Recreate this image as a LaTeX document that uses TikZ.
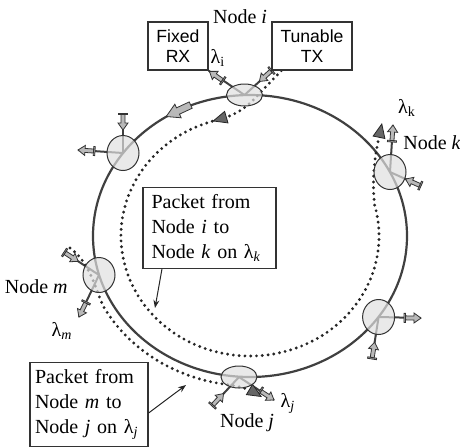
\documentclass[tikz,border=0pt]{standalone}
\usepackage{fontspec}
\setmainfont{Liberation Serif}
\newfontfamily\boxfont{Liberation Sans}
\usetikzlibrary{shapes.geometric, arrows.meta, positioning, calc, backgrounds}

\tikzset{
  blkarrow/.pic={
    \draw[fill=gray!55, draw=black!80, line width=0.4pt] (-9,-4.5) rectangle (-7.5,4.5);
    \draw[fill=gray!55, draw=black!80, line width=0.4pt] (-7.5,-2) -- (1,-2) -- (1,-5) -- (8,0) -- (1,5) -- (1,2) -- (-7.5,2) -- cycle;
  },
  ringarrow/.pic={
    \draw[fill=gray!55, draw=black!80, line width=0.4pt] (-14,-3.5) -- (0,-3.5) -- (0,-7.5) -- (13,0) -- (0,7.5) -- (0,3.5) -- (-14,3.5) -- cycle;
  }
}

\begin{document}
\begin{tikzpicture}[x=0.5pt, y=0.5pt,
  wdm/.style={ellipse, draw=black!80, line width=0.5pt, fill=gray!25, fill opacity=0.7, minimum width=16pt, minimum height=17.5pt, inner sep=0pt},
  flat/.style={minimum width=18pt, minimum height=11pt},
  trx/.style={rectangle, draw=black!80, line width=0.6pt, minimum width=30pt, minimum height=24pt, align=center, font=\boxfont\fontsize{8.8}{10}\selectfont},
  note/.style={rectangle, draw=black!80, line width=0.6pt, align=left, font=\fontsize{10}{12.5}\selectfont},
  lbl/.style={font=\fontsize{10}{12}\selectfont, inner sep=1pt},
  ring/.style={line width=1.1pt, black!75},
  stub/.style={line width=1pt, black!75},
  dots/.style={line width=1.6pt, black!85, dash pattern=on 0pt off 2.9pt, line cap=round},
  dotarrow/.style={dots, -{Triangle[length=7.5pt, width=6.5pt, line width=0.4pt, fill=black!60]}},
  pointer/.style={-{Stealth[length=4pt, width=3pt]}, line width=0.5pt, black!85},
]
\useasboundingbox (0,0) rectangle (460,447);

% ring nodes
\coordinate (c) at (250,211);
\node[wdm, flat] (ni) at (244.5,352) {};
\node[wdm] (na) at (123,294) {};
\node[wdm] (nk) at (390,275) {};
\node[wdm] (nm) at (99,172) {};
\node[wdm] (nb) at (378.6,130) {};
\node[wdm, flat] (nj) at (239,70) {};

% transceivers and notes
\node[trx] (rx) at (178,401) {Fixed\\RX};
\node[trx, minimum width=40pt] (tx) at (312,401) {Tunable\\TX};
\node[note, text width=58pt, inner xsep=4.25pt, minimum height=40pt] (pk1) at (209.5,219) {Packet from\\Node \textit{i} to\\Node \textit{k} on λ\textsubscript{\textit{k}}};
\node[note, text width=54pt, inner xsep=2.5pt, minimum height=41.5pt] (pk2) at (89,42.5) {Packet from\\Node \textit{m} to\\Node \textit{j} on λ\textsubscript{\textit{j}}};

% labels
\node[lbl] (labi) at (240,430) {Node \textit{i}};
\node[lbl] (lami) at (218,389) {λ\textsubscript{i}};
\node[lbl] (lamk) at (407,339) {λ\textsubscript{k}};
\node[lbl, anchor=west] (labk) at (401,304) {Node \textit{k}};
\node[lbl, anchor=east] (labm) at (70,160) {Node \textit{m}};
\node[lbl] (lamm) at (62,116) {λ\textsubscript{\textit{m}}};
\node[lbl] (lamj) at (288,44) {λ\textsubscript{\textit{j}}};
\node[lbl] (labj) at (247,24) {Node \textit{j}};

% free ends
\coordinate (a-add) at (123,334);
\coordinate (a-drop) at (78,297);
\coordinate (k-drop) at (393,322);
\coordinate (k-add) at (421,261);
\coordinate (m-add) at (64,195);
\coordinate (m-drop) at (79,130);
\coordinate (b-drop) at (421,129);
\coordinate (b-add) at (372,88);
\coordinate (j-add) at (212,41);
\coordinate (j-drop) at (274,47);
\coordinate (k-dot) at (382,324);
\coordinate (m-dot) at (70,199);
\coordinate (j-dot) at (262,50);
\coordinate (pk1-tip) at (155,139);
\coordinate (pk2-tip) at (186,62);

\begin{scope}[on background layer]
  \draw[ring] (c) ellipse [x radius=157, y radius=141];
  \pic[rotate=205] at (178,336) {ringarrow};

  % add/drop stubs
  \draw[stub] (ni.center) -- (rx.south east);
  \draw[stub] (tx.south west) -- (ni.center);
  \draw[stub] (a-add) -- (na.center);
  \draw[stub] (na.center) -- (a-drop);
  \draw[stub] (nk.center) -- (k-drop);
  \draw[stub] (k-add) -- (nk.center);
  \draw[stub] (m-add) -- (nm.center);
  \draw[stub] (nm.center) -- (m-drop);
  \draw[stub] (nb.center) -- (b-drop);
  \draw[stub] (b-add) -- (nb.center);
  \draw[stub] (j-add) -- (nj.center);
  \draw[stub] (nj.center) -- (j-drop);

  \pic[rotate=145] at (216,371) {blkarrow};
  \pic[rotate=222] at (265.3,370.9) {blkarrow};
  \pic[rotate=270] at (123,325) {blkarrow};
  \pic[rotate=176] at (86,296.5) {blkarrow};
  \pic[rotate=86] at (392.5,314) {blkarrow};
  \pic[rotate=156] at (412.8,264.7) {blkarrow};
  \pic[rotate=-33] at (71.5,190) {blkarrow};
  \pic[rotate=244] at (82.4,137.2) {blkarrow};
  \pic[rotate=-1] at (413,129) {blkarrow};
  \pic[rotate=81] at (373.4,96.9) {blkarrow};
  \pic[rotate=47] at (218.1,47.6) {blkarrow};
  \pic[rotate=-33] at (267.3,51.4) {blkarrow};

  % packet i -> k
  \draw[dotarrow] ([xshift=5pt]tx.south west) -- (256,350) .. controls (246,338) and (232,331.5) .. ($(c)+(107:129 and 120)$);
  \draw[dotarrow] ($(c)+(107:129 and 120)$) arc[start angle=107, end angle=375, x radius=129, y radius=120] .. controls (371,275) and (377,300) .. (k-dot);
  % packet m -> j
  \draw[dotarrow] (m-dot) .. controls (90,185) and (96,156) .. ($(c)+(208:166 and 150)$) arc[start angle=208, end angle=262, x radius=166, y radius=150] .. controls (240,61) and (252,56) .. (j-dot);
\end{scope}

\draw[pointer] ([xshift=-23.75pt]pk1.south) -- (pk1-tip);
\draw[pointer] ([yshift=-4.25pt]pk2.east) -- (pk2-tip);

\end{tikzpicture}
\end{document}
